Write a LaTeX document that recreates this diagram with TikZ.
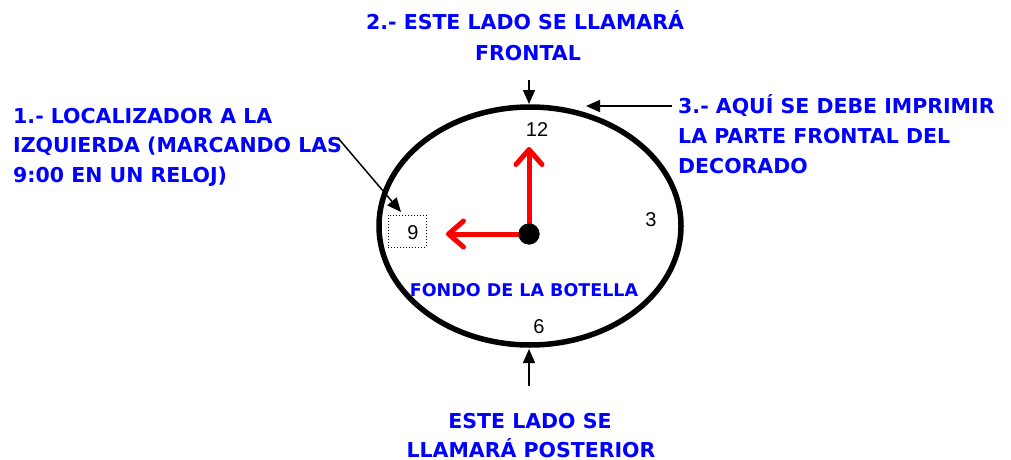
\documentclass[tikz,border=0pt]{standalone}
\usepackage{fontspec}
\setmainfont{Liberation Sans}
\newfontfamily\lblfont{DejaVu Sans}
\usetikzlibrary{arrows.meta,shapes.geometric}
\definecolor{lblblue}{RGB}{0,0,255}
\definecolor{handred}{RGB}{255,0,0}
\begin{document}
\begin{tikzpicture}[x=1pt,y=-1pt,
  lbl/.style={inner sep=0pt, anchor=base west, text=lblblue, font=\lblfont\bfseries\fontsize{20.5}{20.5}\selectfont},
  lblc/.style={lbl, anchor=base},
  num/.style={inner sep=0pt, font=\fontsize{20}{20}\selectfont},
  pointer/.style={line width=1.5pt, -{Triangle[length=14pt,width=12pt]}},
  hand/.style={line width=5pt, handred, line cap=round, -{Straight Barb[length=15pt,width=26pt,line cap=round,line join=round]}}
]
\useasboundingbox (0,0) rectangle (1011,460);
% bottle bottom
\node (ell) [draw, line width=5.5pt, ellipse, minimum width=302pt, minimum height=238pt, inner sep=0pt] at (530,226) {};
% clock numbers
\node (n12) [num] at (537,130) {12};
\node (n3) [num] at (651,220) {3};
\node (n6) [num] at (539,327) {6};
\node (n9) [num] at (413,233) {9};
\node (box) [draw, dotted, line width=1pt, minimum width=38pt, minimum height=32pt, inner sep=0pt] at (407,231) {};
% hands
\node (hub) [circle, fill=black, minimum size=21pt, inner sep=0pt] at (529,234) {};
\coordinate (tipU) at (529,147);
\coordinate (tipL) at (446,234);
\draw[hand] (hub.center) -- (tipU);
\draw[hand] (hub.center) -- (tipL);
\fill (hub) circle (10.5pt);
% labels
\node (fondo) [lblc, font=\lblfont\bfseries\fontsize{17.5}{17.5}\selectfont] at (524,296) {FONDO DE LA BOTELLA};
\node (t1) [lblc] at (525,30) {2.- ESTE LADO SE LLAMARÁ};
\node (t2) [lblc] at (528,60) {FRONTAL};
\node (l1) [lbl] at (13,123) {1.- LOCALIZADOR A LA};
\node (l2) [lbl] at (13,152) {IZQUIERDA (MARCANDO LAS};
\node (l3) [lbl] at (13,182) {9:00 EN UN RELOJ)};
\node (r1) [lbl] at (678,113) {3.- AQUÍ SE DEBE IMPRIMIR};
\node (r2) [lbl] at (678,143) {LA PARTE FRONTAL DEL};
\node (r3) [lbl] at (678,173) {DECORADO};
\node (b1) [lblc] at (530,428) {ESTE LADO SE};
\node (b2) [lblc] at (531,457) {LLAMARÁ POSTERIOR};
% pointers
\coordinate (topS) at (529,80);
\coordinate (topE) at (529,104);
\coordinate (botS) at (529,386);
\coordinate (botE) at (529,349);
\coordinate (rS) at (672,106);
\coordinate (rE) at (586,106);
\coordinate (lS) at (338,138);
\coordinate (lE) at (401,212);
\draw[pointer] (topS) -- (topE);
\draw[pointer] (botS) -- (botE);
\draw[pointer] (rS) -- (rE);
\draw[pointer] (lS) -- (lE);
\end{tikzpicture}
\end{document}
